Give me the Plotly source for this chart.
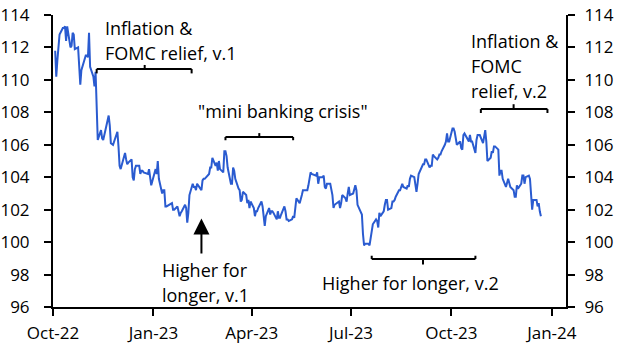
import plotly.graph_objects as go

# ---- Data: daily index values, by month (day-of-month, value) ----
m2022_10_d = [3,4,5,6,7,10,11,12,13,14,17,18,19,20,21,24,25,26,27,28,31]
m2022_10_v = [111.8,110.2,111.2,112.2,112.8,113.2,113.2,113.3,112.4,113.3,112.0,112.1,112.9,112.8,111.9,112.0,110.9,109.7,110.6,110.8,111.5]
m2022_11_d = [1,2,3,4,7,8,9,10,11,14,15,16,17,18,21,22,23,25,28,29,30]
m2022_11_v = [111.5,111.4,112.9,110.8,110.2,109.6,110.5,108.2,106.3,106.9,106.4,106.3,106.7,106.9,107.8,107.2,106.1,106.0,106.6,106.8,105.9]
m2022_12_d = [1,2,5,6,7,8,9,12,13,14,15,16,19,20,21,22,23,27,28,29,30]
m2022_12_v = [104.7,104.5,105.3,105.5,105.1,104.8,104.9,105.1,104.0,103.8,104.5,104.7,104.7,104.2,104.4,104.4,104.3,104.2,104.5,103.9,103.5]
m2023_01_d = [3,4,5,6,9,10,11,12,13,17,18,19,20,23,24,25,26,27,30,31]
m2023_01_v = [104.5,104.2,105.0,103.9,103.0,103.2,103.2,102.2,102.2,102.4,102.4,102.0,102.0,102.2,101.9,101.6,101.8,101.9,102.3,102.1]
m2023_02_d = [1,2,3,6,7,8,9,10,13,14,15,16,17,21,22,23,24,27,28]
m2023_02_v = [101.2,101.8,102.9,103.6,103.4,103.4,103.2,103.6,103.3,103.2,103.8,103.9,103.9,104.2,104.6,104.6,105.2,104.7,104.9]
m2023_03_d = [1,2,3,6,7,8,9,10,13,14,15,16,17,20,21,22,23,24,27,28,29,30,31]
m2023_03_v = [104.4,105.0,104.5,104.3,105.6,105.6,105.3,104.6,103.6,103.6,104.6,104.4,103.9,103.3,103.2,102.5,102.6,103.1,102.9,102.4,102.6,102.1,102.5]
m2023_04_d = [3,4,5,6,7,10,11,12,13,14,17,18,19,20,21,24,25,26,27,28]
m2023_04_v = [102.1,101.6,101.9,101.9,102.1,102.5,102.2,101.5,101.0,101.6,102.1,101.7,101.9,101.9,101.8,101.4,101.9,101.5,101.5,101.7]
m2023_05_d = [1,2,3,4,5,8,9,10,11,12,15,16,17,18,19,22,23,24,25,26,30,31]
m2023_05_v = [102.2,101.9,101.4,101.4,101.3,101.4,101.6,101.5,102.1,102.7,102.4,102.6,102.9,103.2,103.2,103.2,103.5,103.9,104.3,104.2,104.1,104.3]
m2023_06_d = [1,2,5,6,7,8,9,12,13,14,15,16,20,21,22,23,26,27,28,29,30]
m2023_06_v = [103.6,104.0,104.0,104.1,103.4,103.3,103.6,103.6,103.3,102.9,102.1,102.3,102.5,102.1,102.4,102.9,102.7,102.5,103.0,103.4,102.9]
m2023_07_d = [3,5,6,7,10,11,12,13,14,17,18,19,20,21,24,25,26,27,28,31]
m2023_07_v = [103.0,103.5,103.2,102.3,101.9,101.7,100.5,99.8,99.9,99.9,99.8,100.3,100.8,101.1,101.4,101.3,100.9,101.8,101.6,101.9]
m2023_08_d = [1,2,3,4,7,8,9,10,11,14,15,16,17,18,21,22,23,24,25,28,29,30,31]
m2023_08_v = [102.3,102.6,102.6,102.0,102.1,102.5,102.5,102.6,102.8,103.2,103.2,103.4,103.6,103.4,103.3,103.5,103.4,103.9,104.1,104.0,103.5,103.1,103.6]
m2023_09_d = [1,5,6,7,8,11,12,13,14,15,18,19,20,21,22,25,26,27,28,29]
m2023_09_v = [104.2,104.8,104.8,105.1,105.1,104.6,104.7,104.7,105.4,105.3,105.1,105.2,105.4,105.4,105.6,106.0,106.2,106.7,106.2,106.2]
m2023_10_d = [2,3,4,5,6,9,10,11,12,13,16,17,18,19,20,23,24,25,26,27,30,31]
m2023_10_v = [107.0,107.0,106.8,106.4,106.0,106.2,105.8,105.7,106.6,106.7,106.3,106.2,106.6,106.2,106.2,105.5,106.3,106.6,106.6,106.6,106.1,106.7]
m2023_11_d = [1,2,3,6,7,8,9,10,13,14,15,16,17,20,21,22,24,27,28,29,30]
m2023_11_v = [106.9,106.2,105.0,105.2,105.6,105.5,105.9,105.9,105.7,104.1,104.4,104.4,103.9,103.4,103.6,103.9,103.4,103.2,102.8,102.8,103.5]
m2023_12_d = [1,4,5,6,7,8,11,12,13,14,15,18,19,20,21,22]
m2023_12_v = [103.3,103.6,104.1,104.1,103.6,104.0,104.1,103.9,102.9,102.0,102.6,102.6,102.2,102.4,101.9,101.6]

month_blocks = [
    ("2022-10", m2022_10_d, m2022_10_v), ("2022-11", m2022_11_d, m2022_11_v),
    ("2022-12", m2022_12_d, m2022_12_v), ("2023-01", m2023_01_d, m2023_01_v),
    ("2023-02", m2023_02_d, m2023_02_v), ("2023-03", m2023_03_d, m2023_03_v),
    ("2023-04", m2023_04_d, m2023_04_v), ("2023-05", m2023_05_d, m2023_05_v),
    ("2023-06", m2023_06_d, m2023_06_v), ("2023-07", m2023_07_d, m2023_07_v),
    ("2023-08", m2023_08_d, m2023_08_v), ("2023-09", m2023_09_d, m2023_09_v),
    ("2023-10", m2023_10_d, m2023_10_v), ("2023-11", m2023_11_d, m2023_11_v),
    ("2023-12", m2023_12_d, m2023_12_v),
]
dates, values = [], []
for ym, ds, vs in month_blocks:
    for d, v in zip(ds, vs):
        dates.append(f"{ym}-{d:02d}")
        values.append(v)

x_tickvals = ["2022-10-01", "2023-01-01", "2023-04-01", "2023-07-01", "2023-10-01", "2024-01-01"]
x_ticktext = ["Oct-22", "Jan-23", "Apr-23", "Jul-23", "Oct-23", "Jan-24"]
y_ticks = [96, 98, 100, 102, 104, 106, 108, 110, 112, 114]

FONT = "Open Sans"
LINE_COLOR = "#2a5bd0"
TICK_SIZE = 17
ANN_SIZE = 18

fig = go.Figure()
fig.add_trace(go.Scatter(x=dates, y=values, mode="lines",
                         line=dict(color=LINE_COLOR, width=2), showlegend=False, hoverinfo="skip"))
fig.add_trace(go.Scatter(x=dates, y=values, mode="lines", yaxis="y2",
                         line=dict(color="rgba(0,0,0,0)", width=0), showlegend=False, hoverinfo="skip"))

axis_common = dict(showline=True, linecolor="black", linewidth=2, ticks="outside",
                   ticklen=7, tickwidth=2, tickcolor="black", showgrid=False, zeroline=False,
                   automargin=False,
                   tickfont=dict(family=FONT, size=TICK_SIZE, color="black"))

fig.update_layout(
    width=629, height=354,
    margin=dict(l=53, r=63, t=15, b=47),
    paper_bgcolor="white", plot_bgcolor="white",
    xaxis=dict(range=["2022-10-01", "2024-01-14"], tickvals=x_tickvals, ticktext=x_ticktext,
               ticklabelstandoff=3, **axis_common),
    yaxis=dict(range=[96, 114], tickvals=y_ticks, ticklabelstandoff=11, **axis_common),
    yaxis2=dict(range=[96, 114], tickvals=y_ticks, overlaying="y", side="right",
                ticklabelstandoff=6, **axis_common),
)

# Brackets
def bracket(x0, xm, x1, y, y_end, y_mid):
    for (a, b, c, d) in [(x0, y, x1, y), (x0, y, x0, y_end), (x1, y, x1, y_end), (xm, y, xm, y_mid)]:
        fig.add_shape(type="line", xref="x", yref="y", x0=a, y0=b, x1=c, y1=d,
                      line=dict(color="black", width=2))

bracket("2022-11-10", "2022-12-24", "2023-02-05", 110.67, 110.40, 110.92)
bracket("2023-03-08", "2023-04-08", "2023-05-09", 106.48, 106.28, 106.72)
bracket("2023-10-28", "2023-11-27", "2023-12-28", 108.20, 107.96, 108.50)
bracket("2023-07-20", "2023-09-05", "2023-10-23", 98.96, 99.16, 98.62)

# Text labels
labels = [
    ("Inflation &", "2022-11-16", 113.20),
    ("FOMC relief, v.1", "2022-11-16", 111.66),
    ('"mini banking crisis"', "2023-02-09", 108.08),
    ("Inflation &", "2023-10-17", 112.40),
    ("FOMC", "2023-10-17", 110.86),
    ("relief, v.2", "2023-10-17", 109.30),
    ("Higher for longer, v.2", "2023-06-03", 97.45),
    ("Higher for", "2023-01-07", 98.28),
    ("longer, v.1", "2023-01-07", 96.77),
]
for t, x, y in labels:
    fig.add_annotation(text=t, x=x, y=y, xref="x", yref="y", xanchor="left", yanchor="middle",
                       showarrow=False, font=dict(family=FONT, size=ANN_SIZE, color="black"))

# Arrow
fig.add_annotation(text="", x="2023-02-14", y=101.45, ax="2023-02-14", ay=99.2,
                   xref="x", yref="y", axref="x", ayref="y", showarrow=True,
                   arrowhead=2, arrowsize=1.6, arrowwidth=2, arrowcolor="black")

fig.write_html("out.html")
